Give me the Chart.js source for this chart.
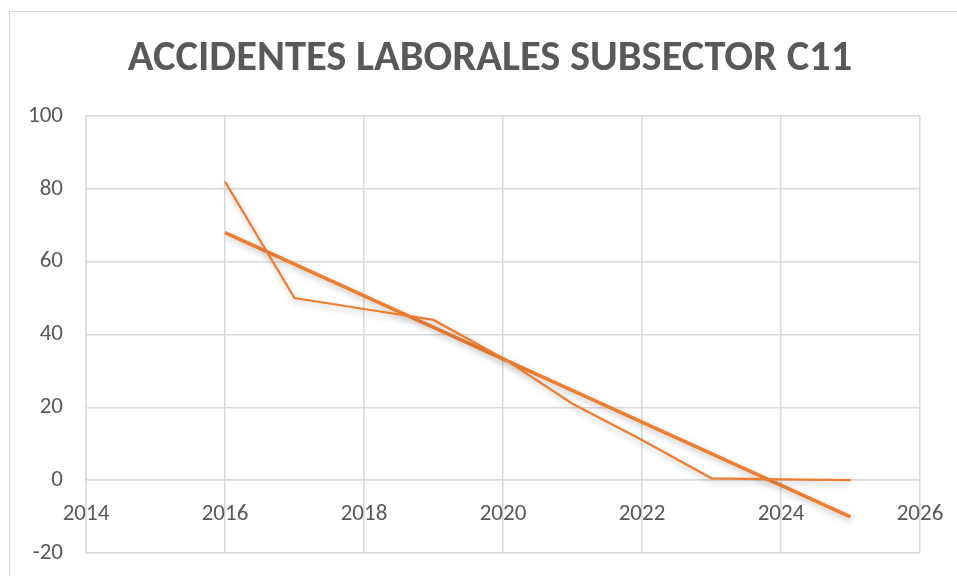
<!DOCTYPE html>
<html>
<head>
<meta charset="utf-8">
<script src="https://cdn.jsdelivr.net/npm/chart.js@4"></script>
<style>
  html, body { margin: 0; padding: 0; background: #fff; }
  #wrap { position: relative; width: 957px; height: 576px; }
</style>
</head>
<body>
<div id="wrap"><canvas id="chart" width="957" height="576"></canvas></div>
<script>
// values
const years = [2016, 2017, 2018, 2019, 2020, 2021, 2022, 2023, 2024, 2025];
const accidents = [82, 50, 47, 44, 33.5, 21, 11, 0.5, 0.2, 0];
const trendYears = [2016, 2025];
const trendValues = [68, -10.1];
const chartTitle = 'ACCIDENTES LABORALES SUBSECTOR C11';

const orange = '#ED7D31';
const grey = '#D9D9D9';
const textGrey = '#595959';
const fontFamily = 'Carlito, Lato, "Open Sans", sans-serif';

// outer frame (cut off at right and bottom) and the title, which sits a bit right of centre
const framePlugin = {
    id: 'frame',
    beforeDraw(chart) {
        const ctx = chart.ctx;
        ctx.save();
        ctx.strokeStyle = grey;
        ctx.lineWidth = 1;
        ctx.strokeRect(9.5, 11.5, 1000, 1000);
        ctx.fillStyle = textGrey;
        ctx.font = 'bold 42.5px ' + fontFamily;
        ctx.textAlign = 'center';
        ctx.textBaseline = 'middle';
        ctx.fillText(chartTitle, 490, 59);
        ctx.restore();
    }
};

// soft shadow under the lines
const shadowPlugin = {
    id: 'lineShadow',
    beforeDatasetDraw(chart) {
        const ctx = chart.ctx;
        ctx.save();
        ctx.shadowColor = 'rgba(0, 0, 0, 0.25)';
        ctx.shadowBlur = 6;
        ctx.shadowOffsetX = 1;
        ctx.shadowOffsetY = 3;
    },
    afterDatasetDraw(chart) {
        chart.ctx.restore();
    }
};

const ctx = document.getElementById('chart').getContext('2d');
new Chart(ctx, {
    type: 'line',
    data: {
        datasets: [{
            label: 'Accidentes',
            data: years.map((y, i) => ({ x: y, y: accidents[i] })),
            borderColor: orange,
            borderWidth: 2.25,
            pointRadius: 0,
            tension: 0,
            fill: false
        }, {
            label: 'Tendencia',
            data: trendYears.map((y, i) => ({ x: y, y: trendValues[i] })),
            borderColor: orange,
            borderWidth: 3.5,
            pointRadius: 0,
            fill: false
        }]
    },
    options: {
        responsive: false,
        animation: false,
        layout: { padding: { left: 0, right: 37, top: 116, bottom: 23 } },
        plugins: {
            legend: { display: false },
            tooltip: { enabled: false },
            title: { display: false }
        },
        scales: {
            x: {
                type: 'linear',
                position: { y: 0 },
                min: 2014,
                max: 2026,
                ticks: {
                    stepSize: 2,
                    color: textGrey,
                    font: { family: fontFamily, size: 23 },
                    padding: 20,
                    maxRotation: 0,
                    callback: v => String(v)
                },
                grid: { color: grey, lineWidth: 1.5, drawTicks: false },
                border: { color: grey, width: 1.5 },
                afterFit: scale => { scale.paddingLeft = 0; scale.paddingRight = 0; }
            },
            y: {
                min: -20,
                max: 100,
                ticks: {
                    stepSize: 20,
                    color: textGrey,
                    font: { family: fontFamily, size: 23 },
                    padding: 23
                },
                grid: { color: grey, lineWidth: 1.5, drawTicks: false },
                border: { color: grey, width: 1.5 },
                afterFit: scale => {
                    scale.width = 86;
                    scale.paddingTop = 0;
                    scale.paddingBottom = 0;
                }
            }
        }
    },
    plugins: [framePlugin, shadowPlugin]
});
</script>
</body>
</html>
